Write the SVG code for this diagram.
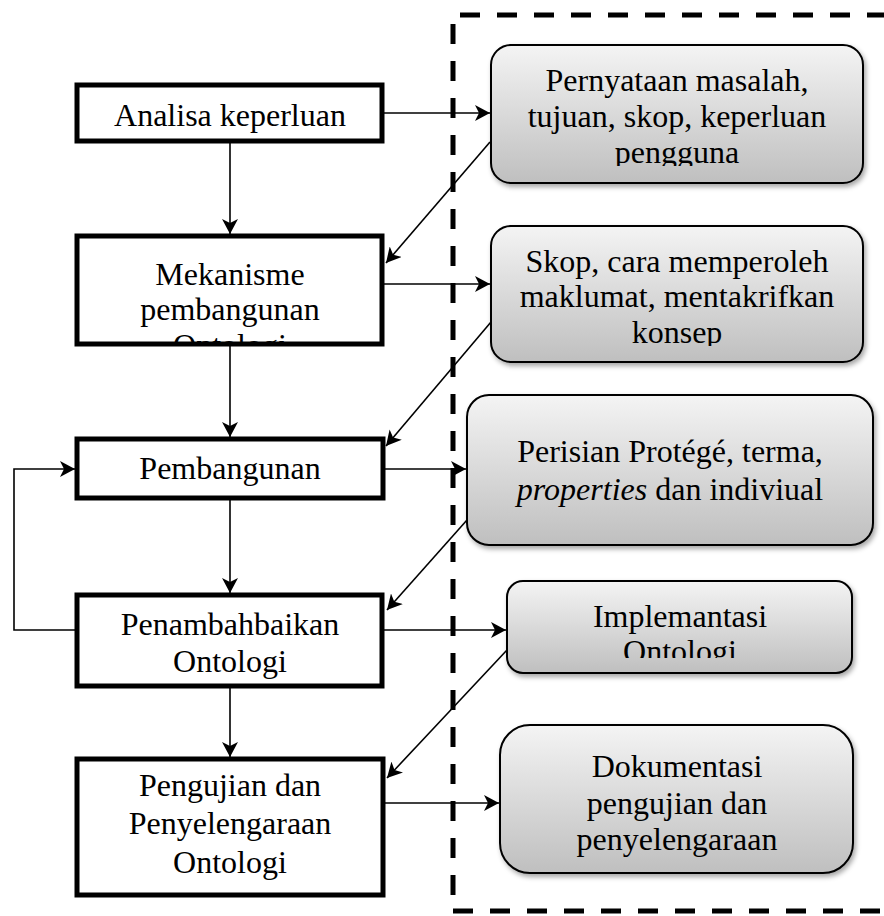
<svg xmlns="http://www.w3.org/2000/svg" width="884" height="916" viewBox="0 0 884 916">
<style>
.t{font-family:"Liberation Serif","Times New Roman",serif;font-size:32px;fill:#000;text-anchor:middle}
.lb{fill:#fff;stroke:#000;stroke-width:5}
.rb{fill:url(#g);stroke:#000;stroke-width:2;filter:url(#sh)}
.c{fill:none;stroke:#000;stroke-width:1.6}
.d{fill:none;stroke:#000;stroke-width:5;stroke-dasharray:20 17}
</style>
<defs>
<linearGradient id="g" x1="0" y1="0" x2="0" y2="1">
<stop offset="0" stop-color="#f4f4f4"/>
<stop offset="1" stop-color="#bfbfbf"/>
</linearGradient>
<filter id="sh" x="-10%" y="-10%" width="120%" height="130%">
<feDropShadow dx="2" dy="3" stdDeviation="2.5" flood-color="#000" flood-opacity="0.35"/>
</filter>
<marker id="a" markerUnits="userSpaceOnUse" markerWidth="16" markerHeight="16" refX="15" refY="8" orient="auto">
<path d="M0,0 L15,8 L0,16 L4,8 z" fill="#000"/>
</marker>
<clipPath id="cb2"><rect x="77" y="236" width="305" height="107"/></clipPath>
<clipPath id="cr1"><rect x="491" y="45" width="372" height="121"/></clipPath>
<clipPath id="cr2"><rect x="491" y="226" width="372" height="120"/></clipPath>
<clipPath id="cr4"><rect x="507" y="581" width="345" height="77"/></clipPath>
</defs>
<rect width="884" height="916" fill="#fff"/>

<g id="border">
<path class="d" d="M460,15 H884"/>
<path class="d" d="M453,24 V905"/>
<path class="d" d="M453,911 H884"/>
</g>

<g id="n1"><rect class="lb" x="77" y="85" width="305" height="56"/><text class="t" x="230" y="126">Analisa keperluan</text></g>
<g id="n2"><rect class="lb" x="77" y="236" width="305" height="108"/>
<g clip-path="url(#cb2)"><text class="t" x="230" y="285">Mekanisme</text><text class="t" x="230" y="320">pembangunan</text><text class="t" x="230" y="356">Ontologi</text></g></g>
<g id="n3"><rect class="lb" x="77" y="439" width="306" height="59"/><text class="t" x="230" y="479">Pembangunan</text></g>
<g id="n4"><rect class="lb" x="77" y="595" width="305" height="91"/><text class="t" x="230" y="635">Penambahbaikan</text><text class="t" x="230" y="672">Ontologi</text></g>
<g id="n5"><rect class="lb" x="77" y="759" width="306" height="136"/><text class="t" x="230" y="796">Pengujian dan</text><text class="t" x="230" y="834">Penyelengaraan</text><text class="t" x="230" y="873">Ontologi</text></g>

<g id="r1"><rect class="rb" x="491" y="45" width="372" height="138" rx="20"/>
<g clip-path="url(#cr1)"><text class="t" x="677" y="91">Pernyataan masalah,</text><text class="t" x="677" y="127">tujuan, skop, keperluan</text><text class="t" x="677" y="163">pengguna</text></g></g>
<g id="r2"><rect class="rb" x="491" y="226" width="372" height="136" rx="20"/>
<g clip-path="url(#cr2)"><text class="t" x="677" y="272">Skop, cara memperoleh</text><text class="t" x="677" y="307">maklumat, mentakrifkan</text><text class="t" x="677" y="343">konsep</text></g></g>
<g id="r3"><rect class="rb" x="467" y="395" width="406" height="150" rx="22"/>
<text class="t" x="670" y="462">Perisian Protégé, terma,</text><text class="t" x="670" y="500"><tspan font-style="italic">properties</tspan> dan indiviual</text></g>
<g id="r4"><rect class="rb" x="507" y="581" width="345" height="92" rx="16"/>
<g clip-path="url(#cr4)"><text class="t" x="680" y="627">Implemantasi</text><text class="t" x="680" y="662">Ontologi</text></g></g>
<g id="r5"><rect class="rb" x="500" y="725" width="353" height="148" rx="30"/>
<text class="t" x="677" y="777">Dokumentasi</text><text class="t" x="677" y="814">pengujian dan</text><text class="t" x="677" y="850">penyelengaraan</text></g>

<g id="connectors">
<path class="c" marker-end="url(#a)" d="M384,113 H490"/>
<path class="c" marker-end="url(#a)" d="M490,142 L386,263"/>
<path class="c" marker-end="url(#a)" d="M230,143 V234"/>
<path class="c" marker-end="url(#a)" d="M384,284 H490"/>
<path class="c" marker-end="url(#a)" d="M491,322 L386,446"/>
<path class="c" marker-end="url(#a)" d="M230,346 V437"/>
<path class="c" marker-end="url(#a)" d="M385,469 H466"/>
<path class="c" marker-end="url(#a)" d="M467,520 L387,610"/>
<path class="c" marker-end="url(#a)" d="M230,500 V593"/>
<path class="c" marker-end="url(#a)" d="M75,630 H14 V469 H75"/>
<path class="c" marker-end="url(#a)" d="M384,630 H506"/>
<path class="c" marker-end="url(#a)" d="M507,650 L387,778"/>
<path class="c" marker-end="url(#a)" d="M230,688 V757"/>
<path class="c" marker-end="url(#a)" d="M385,803 H499"/>
</g>
</svg>
